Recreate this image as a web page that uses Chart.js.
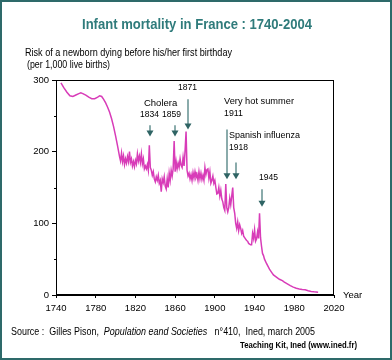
<!DOCTYPE html>
<html>
<head>
<meta charset="utf-8">
<script src="https://cdn.jsdelivr.net/npm/chart.js@4/dist/chart.umd.min.js"></script>
<style>
  html, body { margin: 0; padding: 0; background: #ffffff; }
  #wrap { width: 392px; height: 360px; position: relative; }
</style>
</head>
<body>
<div id="wrap"><canvas id="c" width="392" height="360"></canvas></div>
<script>
// ---------- DATA ----------
const earlyYears = [1745,1748,1751,1754,1757,1760,1763,1765,1767,1770,1773,1776,1779,1782,1784,1786,1788,1790,1792,1794,1796,1798,1800,1802,1804,1805];
const earlyValues = [296,289,283,278,277,279,281,282,281,279,276,274,274,276,278,277,273,268,262,255,246,235,222,208,193,187];

const annualStart = 1806; // yearly values 1806..1945
const annualValues = [
  198,186,194,182,190,184,193,186,200,185, // 1806-1815
  190,180,186,179,188,183,197,187,194,185, // 1816-1825
  197,183,190,176,180,176,182,174,209,178, // 1826-1835
  174,167,172,162,158,165,160,167,156,160, // 1836-1845
  144,162,157,165,152,148,162,150,170,160, // 1846-1855
  174,166,176,215,172,186,176,184,178,190, // 1856-1865
  181,178,192,180,201,228,174,166,170,162, // 1866-1875
  168,160,171,163,172,164,168,160,172,162, // 1876-1885
  170,161,167,160,178,168,175,176,163,172, // 1886-1895
  156,160,166,156,160,150,141,142,150,138, // 1896-1905
  146,134,130,122,118,155,122,116,122,135, // 1906-1915
  126,138,150,122,114,100,93,102,90,98,    // 1916-1925
  93,86,90,82,80,78,76,75,72,71,           // 1926-1935
  70,70,86,79,91,75,78,88,79,114           // 1936-1945
];

const lateYears = [1946,1947,1948,1949,1950,1952,1955,1957,1959,1962,1965,1968,1970,1973,1976,1979,1982,1985,1988,1991,1994,1997,2000,2004];
const lateValues = [80,68,58,55,50,44,36,32,28,25,22,20,18,15.5,13,11,9.5,8.5,7.8,7.2,6,5,4.5,4];

const xTicks = [1740,1780,1820,1860,1900,1940,1980,2020];
const yTicks = [0,100,200,300];
const yMinorTicks = [50,150,250];

// annotations in data units
const arrows = [
  { x: 1834.2, top: 237, tip: 221 },
  { x: 1859.8, top: 237, tip: 221 },
  { x: 1872.6, top: 273, tip: 231 },
  { x: 1911.9, top: 231, tip: 161.4 },
  { x: 1921.3, top: 185, tip: 161.4 },
  { x: 1947.2, top: 147.5, tip: 123.2 }
];
const notes = [
  { text: 'Cholera', x: 1828.6, y: 268, w: 34 },
  { text: '1834', x: 1824.6, y: 252.5, w: 19 },
  { text: '1859', x: 1846.7, y: 252.5, w: 19 },
  { text: '1871', x: 1862.9, y: 290, w: 19 },
  { text: 'Very hot summer', x: 1909.2, y: 269.7, w: 70 },
  { text: '1911', x: 1909.2, y: 253.5, w: 19 },
  { text: 'Spanish influenza', x: 1914.2, y: 222.3, w: 71 },
  { text: '1918', x: 1914.2, y: 206.1, w: 19 },
  { text: '1945', x: 1944.4, y: 164.2, w: 19 }
];

// ---------- BUILD ----------
const points = [];
earlyYears.forEach((y, i) => points.push({ x: y, y: earlyValues[i] }));
annualValues.forEach((v, i) => points.push({ x: annualStart + i, y: v }));
lateYears.forEach((y, i) => points.push({ x: y, y: lateValues[i] }));

const FONT = "'Liberation Sans', Arial, sans-serif";

function fitText(ctx, text, x, y, maxW) {
  const w = ctx.measureText(text).width;
  if (w > maxW) ctx.fillText(text, x, y, maxW); else ctx.fillText(text, x, y);
}

const decor = {
  id: 'decor',
  afterDraw(chart) {
    const ctx = chart.ctx;
    const a = chart.chartArea;
    const xs = chart.scales.x, ys = chart.scales.y;
    ctx.save();
    // plot frame
    ctx.strokeStyle = '#000';
    ctx.lineWidth = 1;
    ctx.strokeRect(Math.round(a.left) + 0.5, Math.round(a.top) + 0.5, Math.round(a.right - a.left) - 1, Math.round(a.bottom - a.top) - 1);
    // minor y ticks
    yMinorTicks.forEach(v => {
      const py = Math.round(ys.getPixelForValue(v)) + 0.5;
      ctx.beginPath();
      ctx.moveTo(a.left - 2, py);
      ctx.lineTo(a.left, py);
      ctx.stroke();
    });
    // arrows
    arrows.forEach(ar => {
      const px = Math.round(xs.getPixelForValue(ar.x));
      const pt = ys.getPixelForValue(ar.top);
      const pp = ys.getPixelForValue(ar.tip);
      ctx.strokeStyle = '#8aabab';
      ctx.lineWidth = 2;
      ctx.beginPath();
      ctx.moveTo(px, pt);
      ctx.lineTo(px, pp - 4);
      ctx.stroke();
      ctx.fillStyle = '#2f6464';
      ctx.beginPath();
      ctx.moveTo(px - 3.5, pp - 6);
      ctx.lineTo(px + 3.5, pp - 6);
      ctx.lineTo(px, pp);
      ctx.closePath();
      ctx.fill();
    });
    // notes
    ctx.fillStyle = '#000';
    ctx.font = '9.5px ' + FONT;
    ctx.textBaseline = 'middle';
    ctx.textAlign = 'left';
    notes.forEach(n => {
      fitText(ctx, n.text, xs.getPixelForValue(n.x), ys.getPixelForValue(n.y), n.w);
    });
    // title
    ctx.fillStyle = '#2f7b7b';
    ctx.font = 'bold 14px ' + FONT;
    ctx.textAlign = 'left';
    fitText(ctx, 'Infant mortality in France : 1740-2004', 82, 25, 230);
    // axis titles
    ctx.fillStyle = '#000';
    ctx.font = '10px ' + FONT;
    fitText(ctx, 'Risk of a newborn dying before his/her first birthday', 25, 53, 207);
    fitText(ctx, '(per 1,000 live births)', 27, 65, 83);
    ctx.font = '9.5px ' + FONT;
    fitText(ctx, 'Year', 343, 295, 20);
    // source
    const sy = 332;
    const parts = [
      ['Source :  Gilles Pison,  ', ''],
      ['Population eand Societies', 'italic '],
      ['   n\u00b0410,  Ined, march 2005', '']
    ];
    let total = 0;
    parts.forEach(p => { ctx.font = p[1] + '10px ' + FONT; p.push(ctx.measureText(p[0]).width); total += p[2]; });
    const k = Math.min(1, 304 / total);
    let sx = 11;
    parts.forEach(p => {
      ctx.font = p[1] + '10px ' + FONT;
      ctx.fillText(p[0], sx, sy, p[2] * k);
      sx += p[2] * k;
    });
    ctx.font = 'bold 8.5px ' + FONT;
    fitText(ctx, 'Teaching Kit, Ined (www.ined.fr)', 240, 346, 117);
    // outer border
    ctx.strokeStyle = '#2e6a6a';
    ctx.lineWidth = 2;
    ctx.strokeRect(1, 1, 390, 358);
    ctx.restore();
  }
};

new Chart(document.getElementById('c'), {
  type: 'line',
  data: {
    datasets: [{
      data: points,
      borderColor: '#d83cb8',
      borderWidth: 1.5,
      pointRadius: 0,
      tension: 0,
      fill: false
    }]
  },
  options: {
    responsive: false,
    animation: false,
    devicePixelRatio: 1,
    layout: { padding: { left: 0, top: 80, right: 58, bottom: 45 } },
    plugins: { legend: { display: false }, tooltip: { enabled: false }, title: { display: false } },
    scales: {
      x: {
        type: 'linear',
        min: 1740, max: 2020,
        afterFit: s => { s.height = 20; },
        afterBuildTicks: s => { s.ticks = xTicks.map(v => ({ value: v })); },
        ticks: { color: '#000', font: { family: FONT, size: 9.5 }, padding: 5, maxRotation: 0, autoSkip: false, callback: v => String(v) },
        grid: { drawOnChartArea: false, drawTicks: true, tickLength: 3, color: '#000' },
        border: { display: true, color: '#000' }
      },
      y: {
        type: 'linear',
        min: 0, max: 300,
        afterFit: s => { s.width = 56; },
        afterBuildTicks: s => { s.ticks = yTicks.map(v => ({ value: v })); },
        ticks: { color: '#000', font: { family: FONT, size: 9.5 }, padding: 3, callback: v => String(v) },
        grid: { drawOnChartArea: false, drawTicks: true, tickLength: 4, color: '#000' },
        border: { display: true, color: '#000' }
      }
    }
  },
  plugins: [decor]
});
</script>
</body>
</html>
